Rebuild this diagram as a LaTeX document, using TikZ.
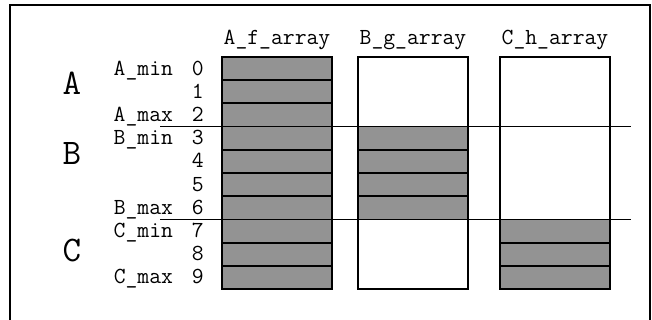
\documentclass[tikz,border=0pt]{standalone}
\usepackage{tikz}
\usetikzlibrary{positioning}
\definecolor{cellgray}{RGB}{147,147,147}

\begin{document}
\begin{tikzpicture}[x=0.5pt,y=-0.5pt,node distance=9pt,
  full cell/.style={rectangle,fill=cellgray,draw,line width=0.9pt,minimum width=55pt,minimum height=11.6pt,inner sep=0pt,outer sep=0pt},
  empty box/.style={rectangle,fill=white,draw,line width=0.9pt,minimum width=55pt,minimum height=116pt,inner sep=0pt,outer sep=0pt},
  label node/.style={font=\ttfamily\fontsize{11.5}{13}\selectfont,inner sep=0pt,text height=9pt,text depth=2.5pt},
  big node/.style={font=\ttfamily\fontsize{18}{20}\selectfont,inner sep=0pt,anchor=base},
  sep line/.style={line width=0.6pt}]

  \useasboundingbox (0,0) rectangle (652,320);
  \draw[line width=0.7pt] (10,320) -- (10,5) -- (650,5) -- (650,320);

  % arrays
  \node[empty box] (bbox) at (413,173) {};
  \node[empty box] (cbox) at (555,173) {};
  \foreach \i in {0,...,9}
    \node[full cell] (a\i) at (277,{57+23.2*(\i+0.5)}) {};
  \foreach \i in {3,...,6}
    \node[full cell] (b\i) at (413,{57+23.2*(\i+0.5)}) {};
  \foreach \i in {7,8,9}
    \node[full cell] (c\i) at (555,{57+23.2*(\i+0.5)}) {};

  \node[label node,above=3.5pt of a0] (ahead) {A\_f\_array};
  \node[label node,above=3.5pt of bbox] (bhead) {B\_g\_array};
  \node[label node,above=3.5pt of cbox] (chead) {C\_h\_array};

  % indices
  \foreach \i in {0,...,9}
    \node[label node,left=of a\i] (n\i) {\i};

  \node[label node,left=9pt of n0] (amin) {A\_min};
  \node[label node,left=9pt of n2] (amax) {A\_max};
  \node[label node,left=9pt of n3] (bmin) {B\_min};
  \node[label node,left=9pt of n6] (bmax) {B\_max};
  \node[label node,left=9pt of n7] (cmin) {C\_min};
  \node[label node,left=9pt of n9] (cmax) {C\_max};

  \node[big node] (ga) at (72,95) {A};
  \node[big node] (gb) at (72,165) {B};
  \node[big node] (gc) at (72,261) {C};

  \draw[sep line] (160,126.6) -- (631,126.6);
  \draw[sep line] (160,219.4) -- (631,219.4);

\end{tikzpicture}
\end{document}
